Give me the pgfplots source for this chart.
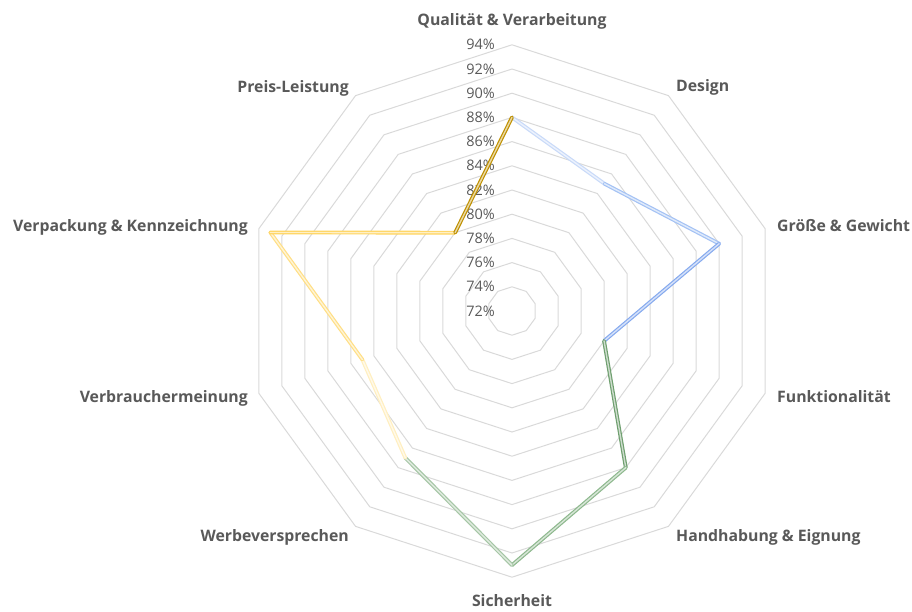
\documentclass[border=0pt]{standalone}
\usepackage{pgfplots}
\usepackage{pgfplotstable}
\pgfplotsset{compat=1.18}
\usepackage{fontspec}
\setmainfont{Open Sans}
\definecolor{txt}{HTML}{595959}
\definecolor{gridc}{HTML}{D9D9D9}
\definecolor{c1}{HTML}{C9DAF8}
\definecolor{c2}{HTML}{A4C2F4}
\definecolor{c3}{HTML}{86AAEE}
\definecolor{c4}{HTML}{6F9F6F}
\definecolor{c5}{HTML}{8DB88D}
\definecolor{c6}{HTML}{A6C6A6}
\definecolor{c7}{HTML}{FFEFC0}
\definecolor{c8}{HTML}{FFDF86}
\definecolor{c9}{HTML}{FFD45C}
\definecolor{c10}{HTML}{BF9000}
\pgfplotstableread{
a v
90 88
54 85
18 90
-18 80
-54 88
-90 93
-126 87
-162 85
-198 93
-234 80
-270 88
}\data
\pgfplotstableread{
a b
90 0
54 0
18 0
-18 0
-54 0
-90 0
-126 0
-162 0
-198 0
-234 0
-270 0
}\angtab
\newcommand\seg[3]{\addplot[draw=#3, double=#3!35!white, line width=1.2pt, double distance=1.4pt, no markers, line cap=round]
  table[x expr={(\thisrow{v}-72)*cos(\thisrow{a})}, y expr={(\thisrow{v}-72)*sin(\thisrow{a})},
  skip coords between index={0}{#1}, skip coords between index={#2}{11}]{\data};}
\begin{document}
\begin{tikzpicture}[x=1pt,y=1pt]
\path[use as bounding box] (-512,-300) rectangle (400,311);
\begin{axis}[at={(0,0)}, anchor=origin, x=12.1pt, y=12.1pt,
  xmin=-25, xmax=25, ymin=-25, ymax=25, hide axis, clip=false]
\pgfplotsinvokeforeach{2,4,...,22}{
  \addplot[gridc, line width=1pt, no markers] table[x expr={#1*cos(\thisrow{a})}, y expr={#1*sin(\thisrow{a})}]{\angtab};
}
\pgfplotsinvokeforeach{72,74,...,94}{
  \node[anchor=east, inner sep=0pt, text=txt, font=\fontsize{14.5}{16}\selectfont] at (axis cs:-1.4,{#1-72}) {#1\%};
}
\seg{0}{2}{c1}
\seg{1}{3}{c2}
\seg{2}{4}{c3}
\seg{3}{5}{c4}
\seg{4}{6}{c5}
\seg{5}{7}{c6}
\seg{6}{8}{c7}
\seg{7}{9}{c8}
\seg{8}{10}{c9}
\seg{9}{11}{c10}
\end{axis}
\tikzset{cat/.style={inner sep=0pt, text=txt, font=\fontsize{15.8}{18}\selectfont\bfseries, text height=0.75em, text depth=0.22em}}
\node[cat, anchor=center] at (0,288) {Qualität \& Verarbeitung};
\node[cat, anchor=west] at (164,222) {Design};
\node[cat, anchor=west] at (265,82) {Größe \& Gewicht};
\node[cat, anchor=west] at (265,-89) {Funktionalität};
\node[cat, anchor=west] at (164,-228) {Handhabung \& Eignung};
\node[cat, anchor=center] at (0,-293) {Sicherheit};
\node[cat, anchor=east] at (-163,-228) {Werbeversprechen};
\node[cat, anchor=east] at (-264,-89) {Verbrauchermeinung};
\node[cat, anchor=east] at (-264,82) {Verpackung \& Kennzeichnung};
\node[cat, anchor=east] at (-163,221) {Preis-Leistung};
\end{tikzpicture}
\end{document}
